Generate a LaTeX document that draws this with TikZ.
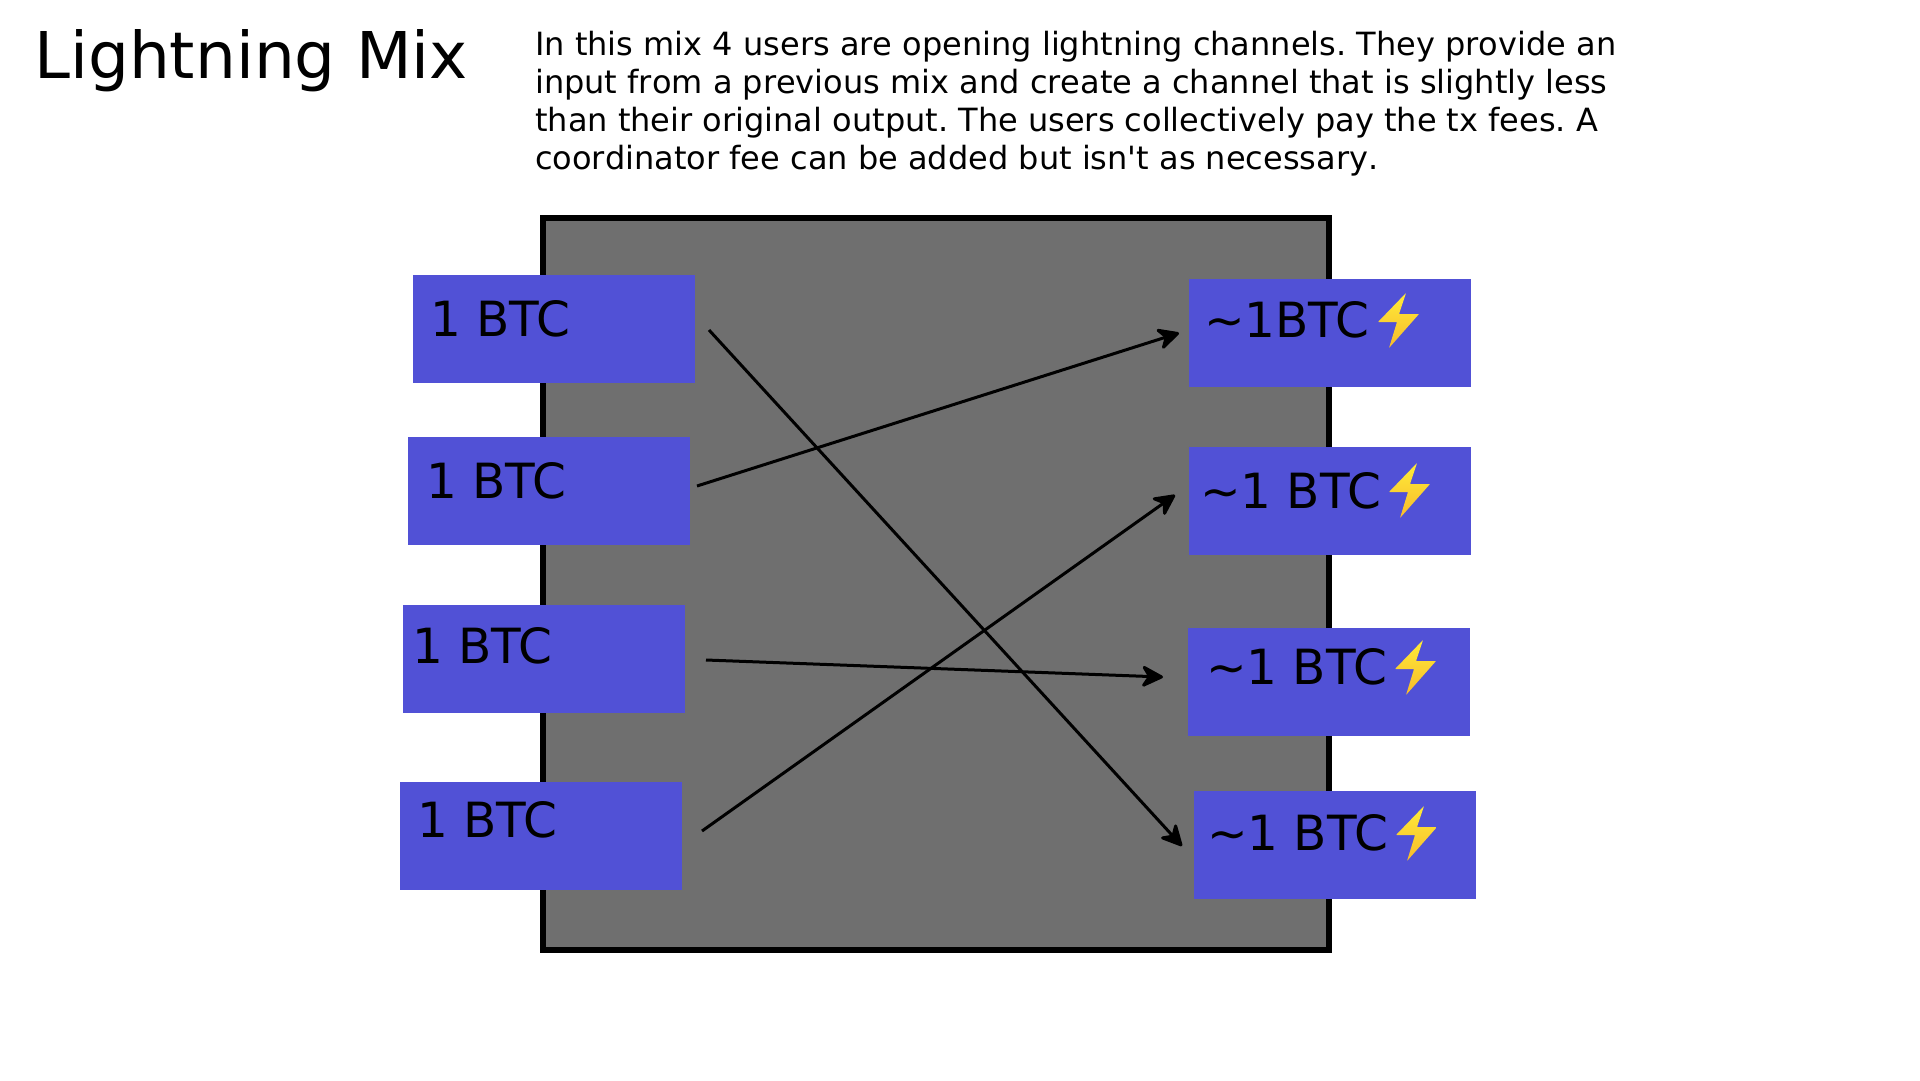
\documentclass[tikz,border=0pt]{standalone}
\usepackage{fontspec}
\newfontfamily\djv{DejaVu Sans}
\newfontfamily\djvnk[Kerning=Off]{DejaVu Sans}
\usetikzlibrary{arrows.meta}
\definecolor{boxblue}{RGB}{81,81,214}
\definecolor{mixgray}{RGB}{111,111,111}
\definecolor{bolttop}{RGB}{255,236,56}
\definecolor{boltbottom}{RGB}{247,186,44}
\tikzset{
  btcbox/.style={fill=boxblue,draw=none,anchor=north west,minimum width=282pt,minimum height=108pt,inner sep=0pt,outer sep=0pt},
  btclabel/.style={anchor=base west,inner sep=0pt,outer sep=0pt,font=\djv\fontsize{48.5}{48.5}\selectfont},
  flow/.style={line width=3pt,draw=black,-{Stealth[length=25pt,width=25pt,inset=8pt,round]}},
  bolt/.style={top color=bolttop,bottom color=boltbottom,draw=none,rounded corners=0.6pt},
}
\newcommand{\boltat}[1]{%
  \path[bolt,shift={#1}] (1,-1) -- (-27,28) -- (-8,28) -- (-16,54) -- (14,20) -- (-6,20) -- cycle;}
\begin{document}
\begin{tikzpicture}[x=1pt,y=-1pt]
\useasboundingbox (0,0) rectangle (1920,1080);
\node[anchor=base west,inner sep=0pt,font=\djv\fontsize{64.5}{64.5}\selectfont] (title) at (34,78) {Lightning Mix};
\node[anchor=base west,inner sep=0pt,align=left,font=\djvnk\frenchspacing\fontsize{32}{37.7}\selectfont] (desc) at (535,169) {In this mix 4 users are opening lightning channels. They provide an\\input from a previous mix and create a channel that is slightly less\\than their original output. The users collectively pay the tx fees. A\\coordinator fee can be added but isn't as necessary.};
\draw[line width=6pt,fill=mixgray,draw=black] (543,218) rectangle (1329,950);
\node[btcbox] (in1) at (413,275) {};
\node[btcbox] (in2) at (408,437) {};
\node[btcbox] (in3) at (403,605) {};
\node[btcbox] (in4) at (400,782) {};
\node[btcbox] (out1) at (1189,279) {};
\node[btcbox] (out2) at (1189,447) {};
\node[btcbox] (out3) at (1188,628) {};
\node[btcbox] (out4) at (1194,791) {};
\node[btclabel] (lin1) at (430,336) {1 BTC};
\node[btclabel] (lin2) at (426,498) {1 BTC};
\node[btclabel] (lin3) at (412,663) {1 BTC};
\node[btclabel] (lin4) at (417,837) {1 BTC};
\node[btclabel] (lout1) at (1204,337) {\textasciitilde 1BTC};
\node[btclabel] (lout2) at (1200,508) {\textasciitilde 1 BTC};
\node[btclabel] (lout3) at (1206,684) {\textasciitilde 1 BTC};
\node[btclabel] (lout4) at (1207,850) {\textasciitilde 1 BTC};
\boltat{(1405,294)}
\boltat{(1416,464)}
\boltat{(1422,641)}
\boltat{(1423,807)}
\coordinate (a1) at (709,330);
\coordinate (a2) at (697,486);
\coordinate (a3) at (706,660);
\coordinate (a4) at (702,831);
\coordinate (b1) at (1179,333);
\coordinate (b2) at (1175,495);
\coordinate (b3) at (1163,677);
\coordinate (b4) at (1182,846);
\draw[flow] (a1) -- (b4);
\draw[flow] (a2) -- (b1);
\draw[flow] (a3) -- (b3);
\draw[flow] (a4) -- (b2);
\end{tikzpicture}
\end{document}
